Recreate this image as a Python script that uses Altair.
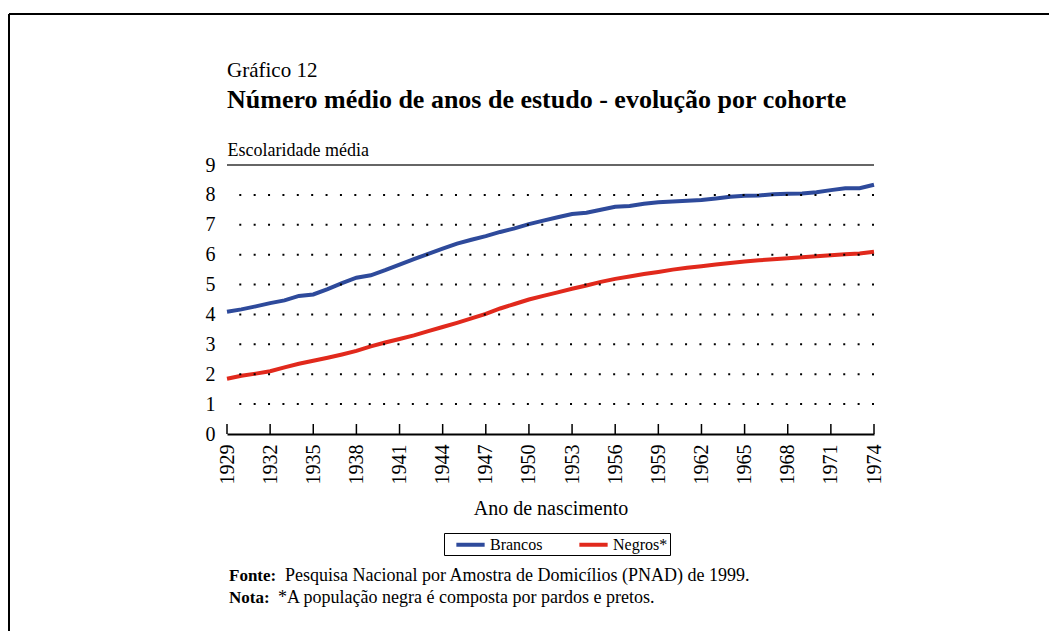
import altair as alt
import pandas as pd

# ---------------- data ----------------
years = list(range(1929, 1975))
brancos = [4.09, 4.17, 4.27, 4.38, 4.47, 4.62, 4.67, 4.85, 5.05, 5.23,
           5.31, 5.48, 5.67, 5.85, 6.03, 6.20, 6.37, 6.50, 6.62, 6.76,
           6.88, 7.02, 7.14, 7.25, 7.36, 7.40, 7.50, 7.60, 7.63, 7.70,
           7.75, 7.78, 7.80, 7.83, 7.88, 7.94, 7.97, 7.98, 8.02, 8.04,
           8.05, 8.09, 8.16, 8.22, 8.22, 8.34]
negros = [1.85, 1.95, 2.02, 2.10, 2.23, 2.35, 2.45, 2.55, 2.66, 2.78,
          2.93, 3.06, 3.18, 3.30, 3.44, 3.58, 3.72, 3.87, 4.02, 4.20,
          4.35, 4.50, 4.62, 4.74, 4.86, 4.97, 5.09, 5.19, 5.27, 5.35,
          5.42, 5.50, 5.56, 5.61, 5.67, 5.72, 5.77, 5.81, 5.85, 5.88,
          5.91, 5.95, 5.98, 6.01, 6.04, 6.10]
series_names = ["Brancos", "Negros*"]
series_colors = ["#2E4A9B", "#E1291C"]
tick_years = list(range(1929, 1975, 3))
y_ticks = list(range(0, 10))
grid_levels = list(range(1, 9))
top_level = [9]

title_text = "Gráfico 12"
subtitle_text = "Número médio de anos de estudo - evolução por cohorte"
y_title = "Escolaridade média"
x_title = "Ano de nascimento"
note_labels = ["Fonte:", "Nota:"]
note_texts = ["Pesquisa Nacional por Amostra de Domicílios (PNAD) de 1999.",
              "*A população negra é composta por pardos e pretos."]

# ---------------- layout ----------------
W, H = 647, 269
FONT = "Liberation Serif"

df = pd.DataFrame({
    "ano": years * 2,
    "valor": brancos + negros,
    "grupo": [series_names[0]] * len(years) + [series_names[1]] * len(years),
})

xscale = alt.Scale(domain=[years[0], years[-1]], nice=False, zero=False)
yscale = alt.Scale(domain=[0, 9], nice=False)

x_axis = alt.Axis(values=tick_years, format="d", labelAngle=-90,
                  labelAlign="right", labelBaseline="middle",
                  labelFont=FONT, labelFontSize=20, labelColor="black",
                  labelPadding=10, ticks=False, grid=False,
                  domainColor="black", domainWidth=2,
                  title=x_title, titleFont=FONT, titleFontSize=20,
                  titleFontWeight="normal", titleColor="black",
                  titlePadding=14, labelOverlap=False)
y_axis = alt.Axis(values=y_ticks, tickCount=10, grid=False, domain=False, ticks=False,
                  labelFont=FONT, labelFontSize=20, labelColor="black",
                  labelPadding=12, labelOverlap=False,
                  title=y_title, titleAngle=0, titleAlign="left",
                  titleBaseline="bottom", titleX=0, titleY=-6,
                  titleFont=FONT, titleFontSize=18,
                  titleFontWeight="normal", titleColor="black")

lines = alt.Chart(df).mark_line(strokeWidth=4).encode(
    x=alt.X("ano:Q", scale=xscale, axis=x_axis),
    y=alt.Y("valor:Q", scale=yscale, axis=y_axis),
    color=alt.Color("grupo:N",
                    scale=alt.Scale(domain=series_names, range=series_colors),
                    sort=series_names,
                    legend=alt.Legend(title=None, orient="none", legendX=217,
                                      legendY=368, direction="horizontal",
                                      strokeColor="black", fillColor="white",
                                      padding=2, symbolOffset=15,
                                      symbolType="M-2,0H2", symbolSize=200,
                                      symbolStrokeWidth=4,
                                      labelFont=FONT, labelFontSize=16,
                                      labelColor="black", labelOffset=10,
                                      columnPadding=26)),
)

grid = alt.Chart(pd.DataFrame({"valor": grid_levels})).mark_rule(
    color="black", strokeWidth=2, strokeDash=[2, 12.38]
).encode(y=alt.Y("valor:Q", scale=yscale, axis=y_axis))

top_rule = alt.Chart(pd.DataFrame({"valor": top_level})).mark_rule(
    color="#666666", strokeWidth=2
).encode(y=alt.Y("valor:Q", scale=yscale, axis=y_axis))

ticks = alt.Chart(pd.DataFrame({"ano": tick_years})).mark_rule(
    color="black", strokeWidth=1.5
).encode(x=alt.X("ano:Q", scale=xscale, axis=x_axis),
         y=alt.value(H), y2=alt.value(H - 10))

frame_base = alt.Chart(pd.DataFrame({"k": [0]})).mark_rule(color="black", strokeWidth=2)
frame_top = frame_base.encode(x=alt.value(-218), x2=alt.value(822), y=alt.value(-151))
frame_left = frame_base.encode(x=alt.value(-218), y=alt.value(-151), y2=alt.value(466))

tdf = pd.DataFrame({"t": [title_text], "s": [subtitle_text]})
title_mark = alt.Chart(tdf).mark_text(
    font=FONT, fontSize=21, align="left", baseline="alphabetic", color="black"
).encode(text="t:N", x=alt.value(0), y=alt.value(-88))
subtitle_mark = alt.Chart(tdf).mark_text(
    font=FONT, fontSize=26, fontWeight="bold", align="left",
    baseline="alphabetic", color="black"
).encode(text="s:N", x=alt.value(0), y=alt.value(-57))

note_layers = []
note_y = [416, 438]
note_x = [58, 51]
for i in range(2):
    nd = pd.DataFrame({"t": [note_labels[i]], "u": [note_texts[i]]})
    note_layers.append(alt.Chart(nd).mark_text(
        font=FONT, fontSize=17, fontWeight="bold", align="left",
        baseline="alphabetic", color="black"
    ).encode(text="t:N", x=alt.value(2), y=alt.value(note_y[i])))
    note_layers.append(alt.Chart(nd).mark_text(
        font=FONT, fontSize=18, align="left",
        baseline="alphabetic", color="black"
    ).encode(text="u:N", x=alt.value(note_x[i]), y=alt.value(note_y[i])))

chart = alt.layer(lines, grid, top_rule, ticks, frame_top, frame_left,
                  title_mark, subtitle_mark, *note_layers).properties(
    width=W, height=H,
    padding={"left": 0, "top": 5, "right": 0, "bottom": 0},
    background="white",
).configure_view(stroke=None)

chart.save("out.html", embed_options={"renderer": "svg", "actions": False})
